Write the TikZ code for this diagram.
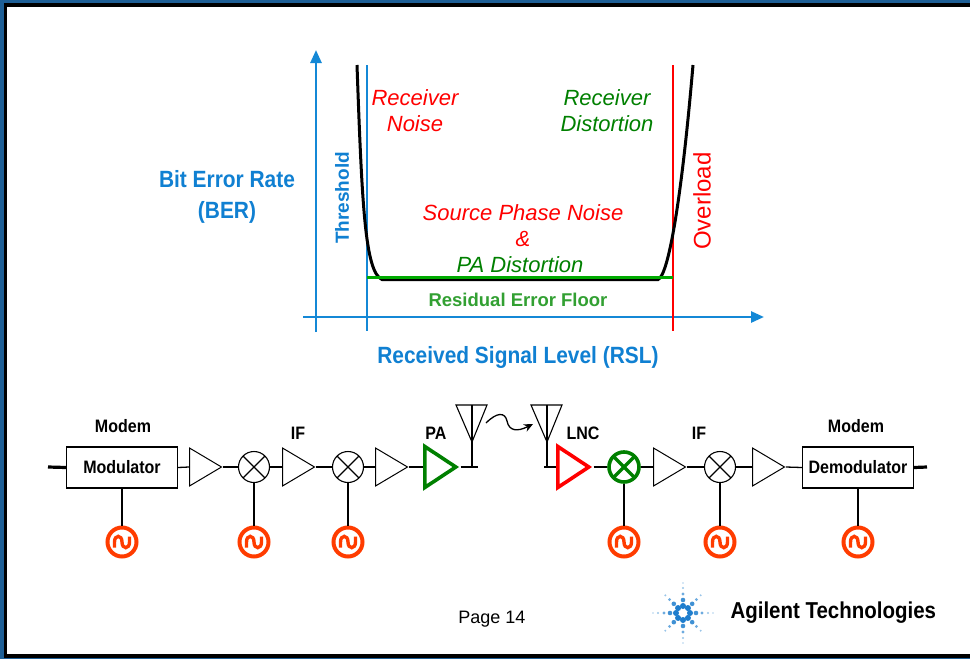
\documentclass[tikz,border=0pt]{standalone}
\usepackage{fontspec}
\setmainfont{Liberation Sans}
\newfontfamily\condf[FakeStretch=0.89]{Liberation Sans}
\usetikzlibrary{shapes.geometric,arrows.meta}
\definecolor{axblue}{RGB}{20,136,214}
\definecolor{txtblue}{RGB}{16,128,210}
\definecolor{cred}{RGB}{255,0,0}
\definecolor{cgreen}{RGB}{0,128,0}
\definecolor{lgreen}{RGB}{0,170,0}
\definecolor{rgreen}{RGB}{50,160,50}
\definecolor{oscred}{RGB}{255,60,0}
\definecolor{frameblue}{RGB}{30,95,150}
\definecolor{logoblue}{RGB}{30,125,205}
\tikzset{
  axisline/.style={axblue, line width=2.6pt},
  wire/.style={black, line width=1.3pt},
  ampbox/.style={isosceles triangle, isosceles triangle stretches, draw, line width=1pt,
     minimum width=38pt, minimum height=32pt, inner sep=0pt, anchor=west},
  bigamp/.style={ampbox, line width=3.6pt, minimum width=41pt, minimum height=31pt},
  mixer/.style={circle, draw, line width=1.1pt, minimum size=31pt, inner sep=0pt,
     path picture={\draw[line width=1.1pt] (path picture bounding box.north west) -- (path picture bounding box.south east)
       (path picture bounding box.north east) -- (path picture bounding box.south west);}},
  gmixer/.style={circle, draw=cgreen, line width=3.6pt, minimum size=30pt, inner sep=0pt,
     path picture={\draw[cgreen, line width=3.2pt] (path picture bounding box.north west) -- (path picture bounding box.south east)
       (path picture bounding box.north east) -- (path picture bounding box.south west);}},
  osc/.style={circle, draw=oscred, line width=4pt, minimum size=29pt, inner sep=0pt,
     path picture={\draw[oscred, line width=3.4pt, shift={(path picture bounding box.center)}]
       (-7.5,5.5) -- (-7.5,0) .. controls (-7.5,-7.5) and (0,-7.5) .. (0,0)
       .. controls (0,7.5) and (7.5,7.5) .. (7.5,0) -- (7.5,-5.5);}},
  block/.style={draw, line width=1.3pt, minimum width=111pt, minimum height=41pt, inner sep=0pt,
     font=\condf\bfseries\fontsize{18}{20}\selectfont},
  lab/.style={font=\condf\bfseries\fontsize{18}{20}\selectfont},
  itred/.style={cred, font=\fontsize{22}{26}\selectfont\itshape},
  itgreen/.style={cgreen, font=\fontsize{22}{26}\selectfont\itshape},
}
\begin{document}
\begin{tikzpicture}[x=1pt,y=-1pt]
% frame
\fill[frameblue] (0,0) rectangle (970,659);
\fill[black] (4,3) rectangle (970,658);
\fill[white] (7,7) rectangle (970,654);
\useasboundingbox (0,0) rectangle (970,659);

% ---------- graph ----------
\coordinate (yb) at (316,332); \coordinate (yt) at (316,50);
\coordinate (xl) at (303,317); \coordinate (xr) at (764,317);
\draw[axisline, -{Triangle[length=13pt,width=11pt]}] (yb) -- (yt);
\draw[axisline, -{Triangle[length=13pt,width=11pt]}] (xl) -- (xr);
\coordinate (tht) at (367,65); \coordinate (thb) at (367,331);
\coordinate (ovt) at (673,65); \coordinate (ovb) at (673,331);
\draw[axblue, line width=2pt] (tht) -- (thb);
\draw[cred, line width=2pt] (ovt) -- (ovb);
\draw[black, line width=3pt] (357,65) .. controls (362,205) and (365,272) .. (382,279.5)
   -- (658,279.5) .. controls (668,276) and (681,205) .. (693,65);
\coordinate (gl) at (367,277); \coordinate (gr) at (673,277);
\draw[lgreen, line width=3pt] (gl) -- (gr);

\node[txtblue, font=\fontsize{19}{22}\selectfont\bfseries, rotate=90] (thr) at (342,198) {Threshold};
\node[cred, font=\fontsize{24}{28}\selectfont, rotate=90] (ovl) at (702,201) {Overload};
\node[itred, align=center] (rn) at (415,111) {Receiver\\Noise};
\node[itgreen, align=center] (rd) at (607,111) {Receiver\\Distortion};
\node[itred] (spn) at (523,213) {Source Phase Noise};
\node[itred] (amp) at (523,239) {\&};
\node[itgreen] (pad) at (520,265) {PA Distortion};
\node[rgreen, font=\fontsize{18.5}{22}\selectfont\bfseries] (ref) at (518,300) {Residual Error Floor};
\node[txtblue, font=\condf\bfseries\fontsize{23.5}{26}\selectfont] (rsl) at (518,357) {Received Signal Level (RSL)};
\node[txtblue, font=\condf\bfseries\fontsize{23.5}{31}\selectfont, align=center] (ber) at (227,197) {Bit Error Rate\\(BER)};

% ---------- chain ----------
\node[block] (mod) at (122,467.5) {Modulator};
\node[lab] (modem1) at (123,426) {Modem};
\coordinate (in) at (48,467);
\draw[line width=3.2pt] (in) -- (mod.west);

\node[ampbox] (a1) at (189,467) {};
\node[mixer] (m1) at (254,467) {};
\node[ampbox] (a2) at (282,467) {};
\node[mixer] (m2) at (348,467) {};
\node[ampbox] (a3) at (375,467) {};
\node[bigamp, draw=cgreen] (pa) at (423,467) {};
\node[lab] (if1) at (298,433) {IF};
\node[lab] (pal) at (436,433) {PA};

\node[bigamp, draw=cred] (lnc) at (556,467) {};
\node[gmixer] (gm) at (624,467) {};
\node[ampbox] (a4) at (653,467) {};
\node[mixer] (m3) at (720,467) {};
\node[ampbox] (a5) at (752,467) {};
\node[block] (demod) at (858,467.5) {Demodulator};
\node[lab] (modem2) at (856,426) {Modem};
\node[lab] (lncl) at (583,433) {LNC};
\node[lab] (if2) at (699,433) {IF};
\coordinate (out) at (927,467);
\draw[line width=3.2pt] (demod.east) -- (out);

\draw[wire] (mod.east) -- (a1.west);
\draw[wire] (a1.apex) -- (m1.west);
\draw[wire] (m1.east) -- (a2.west);
\draw[wire] (a2.apex) -- (m2.west);
\draw[wire] (m2.east) -- (a3.west);
\draw[wire] (a3.apex) -- (pa.west);
\draw[wire] (lnc.apex) -- (gm.west);
\draw[wire] (gm.east) -- (a4.west);
\draw[wire] (a4.apex) -- (m3.west);
\draw[wire] (m3.east) -- (a5.west);
\draw[wire] (a5.apex) -- (demod.west);

% antennas
\coordinate (ant1) at (472,442); \coordinate (ant1l) at (456,405); \coordinate (ant1r) at (487,405); \coordinate (ant1t) at (472,405);
\coordinate (ant1b) at (472,467); \coordinate (t1) at (478,467);
\draw[wire] (pa.apex) -- (t1);
\draw[wire] (ant1b) -- (ant1);
\draw[line width=1.1pt, line join=miter] (ant1l) -- (ant1r) -- (ant1) -- cycle;
\draw[line width=1.1pt] (ant1t) -- (ant1);

\coordinate (ant2) at (547,442); \coordinate (ant2l) at (531,405); \coordinate (ant2r) at (562,405); \coordinate (ant2t) at (547,405);
\coordinate (ant2b) at (547,467); \coordinate (t2) at (544,467);
\draw[wire] (t2) -- (lnc.west);
\draw[wire] (ant2b) -- (ant2);
\draw[line width=1.1pt, line join=miter] (ant2l) -- (ant2r) -- (ant2) -- cycle;
\draw[line width=1.1pt] (ant2t) -- (ant2);

\coordinate (w1) at (486,423); \coordinate (w2) at (533,424);
\draw[line width=1.3pt, -{Stealth[length=9pt,width=8pt]}] (w1) .. controls (497,412) and (505,412) .. (507,421)
   .. controls (509,431) and (517,432) .. (w2);

% oscillators
\node[osc] (o1) at (122,542) {};
\node[osc] (o2) at (254,542) {};
\node[osc] (o3) at (348,542) {};
\node[osc] (o4) at (624,542) {};
\node[osc] (o5) at (720,542) {};
\node[osc] (o6) at (858,542) {};
\draw[wire] (mod.south) -- (o1.north);
\draw[wire] (m1.south) -- (o2.north);
\draw[wire] (m2.south) -- (o3.north);
\draw[wire] (gm.south) -- (o4.north);
\draw[wire] (m3.south) -- (o5.north);
\draw[wire] (demod.south) -- (o6.north);

% footer
\node[font=\fontsize{18}{20}\selectfont] (page) at (492,619) {Page 14};
\node[font=\condf\bfseries\fontsize{23}{26}\selectfont, anchor=west] (agl) at (727,613) {Agilent Technologies};
\coordinate (logo) at (683,613);
\foreach \a in {0,45,...,315} {
  \fill[logoblue] (logo) ++(\a:7) circle (3.0);
  \fill[logoblue!85] (logo) ++(\a:13) circle (2.3);
  \fill[logoblue!65] (logo) ++(\a:19) circle (1.6);
  \fill[logoblue!45] (logo) ++(\a:25) circle (1.1);
}
\foreach \a in {0,90,180,270} {
  \fill[logoblue!35] (logo) ++(\a:30) circle (0.9);
}
\end{tikzpicture}
\end{document}
